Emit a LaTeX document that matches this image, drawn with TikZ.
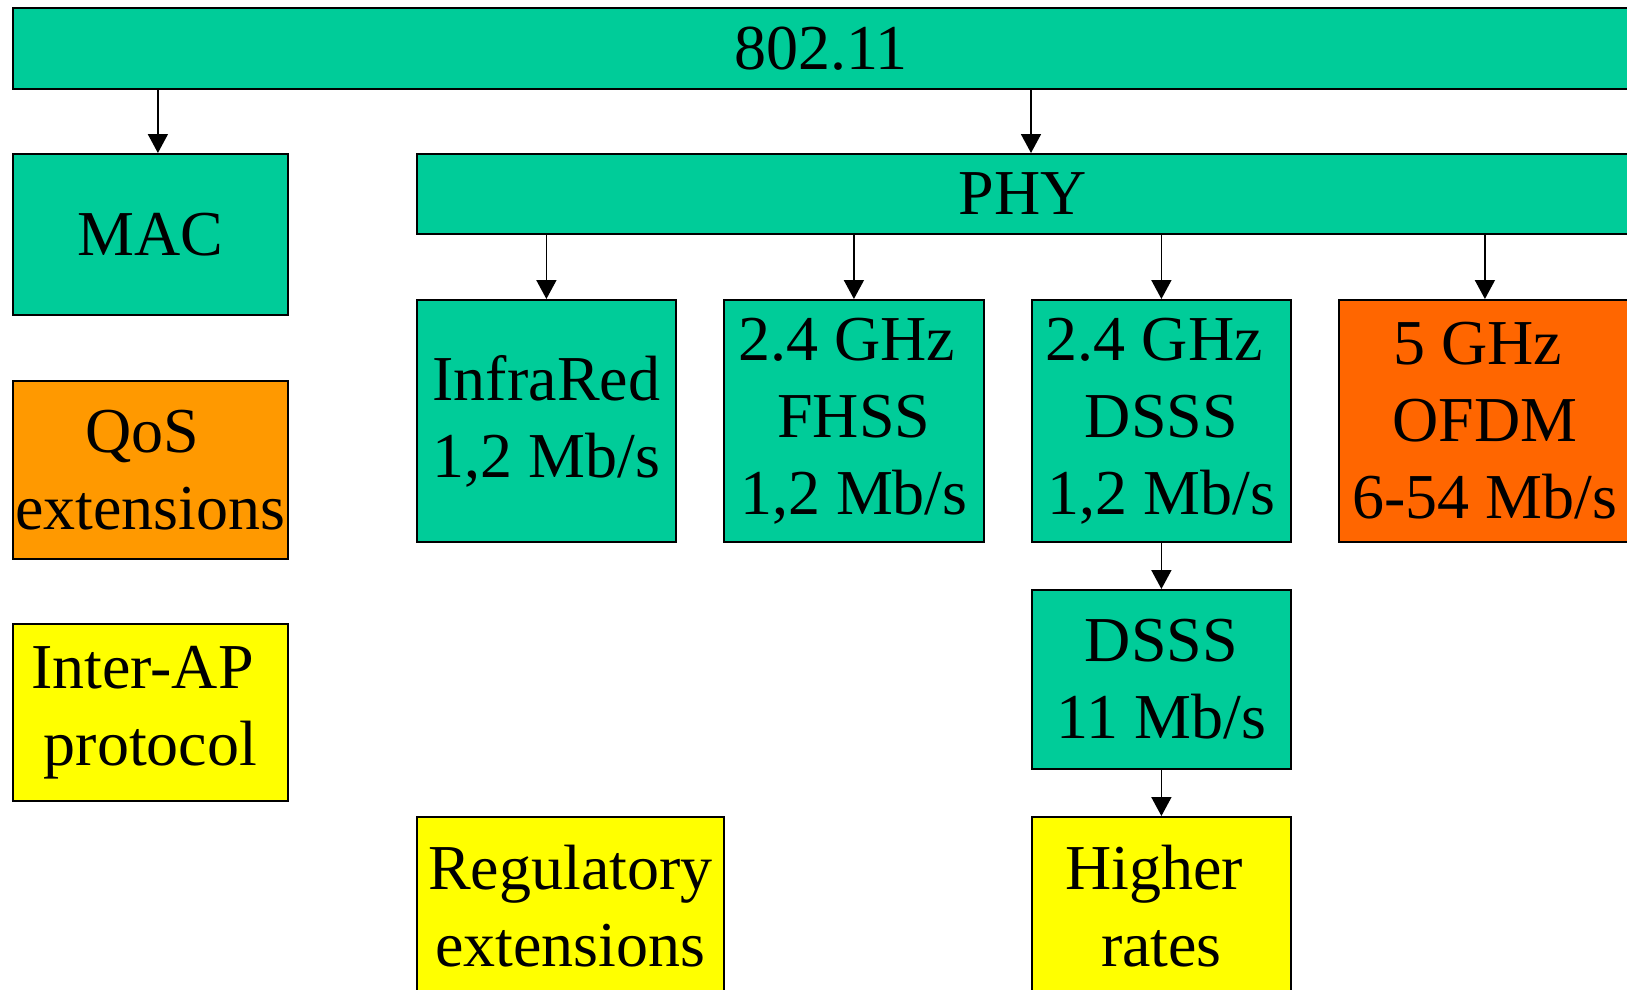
\documentclass[tikz,border=0pt]{standalone}
\usepackage{fontspec}
\setmainfont{Liberation Serif}
\usetikzlibrary{arrows.meta}
\definecolor{boxgreen}{HTML}{00CC99}
\definecolor{boxorange}{HTML}{FF9900}
\definecolor{boxred}{HTML}{FF6600}
\definecolor{boxyellow}{HTML}{FFFF00}
\tikzset{
  blk/.style={draw=black, line width=1.8pt, anchor=north west, inner sep=0pt,
    align=center, font=\fontsize{64}{77}\selectfont, text=black},
  green/.style={blk, fill=boxgreen},
  orng/.style={blk, fill=boxorange},
  redo/.style={blk, fill=boxred},
  yell/.style={blk, fill=boxyellow},
  arr/.style={line width=1.8pt, -{Triangle[length=19pt,width=20pt]}}
}
\begin{document}
\begin{tikzpicture}[x=1pt, y=-1pt]
\useasboundingbox (0,0) rectangle (1627,990);
\fill[white] (0,0) rectangle (1627,990);
\clip (0,0) rectangle (1627,990);

% standard and its two layers
\node[green, minimum width=1616pt, minimum height=81pt] (top) at (12,7) {802.11};
\node[green, minimum width=275pt, minimum height=161pt] (mac) at (12,153) {MAC};
\node[green, minimum width=1212pt, minimum height=80pt] (phy) at (416,153) {PHY};

% MAC extensions
\node[orng, minimum width=275pt, minimum height=178pt] (qos) at (12,380) {QoS\hspace*{16pt}\\extensions};
\node[yell, minimum width=275pt, minimum height=177pt] (iap) at (12,623) {\rule{0pt}{10pt}Inter-AP\hspace*{16pt}\\protocol};

% physical layers
\node[green, minimum width=259pt, minimum height=242pt] (ir) at (416,299) {InfraRed\\1,2 Mb/s};
\node[green, minimum width=260pt, minimum height=242pt] (fh) at (723,299) {2.4 GHz\hspace*{14pt}\\FHSS\\1,2 Mb/s};
\node[green, minimum width=259pt, minimum height=242pt] (ds) at (1031,299) {2.4 GHz\hspace*{14pt}\\DSSS\\1,2 Mb/s};
\node[redo, minimum width=292pt, minimum height=242pt] (of) at (1338,299) {5 GHz\hspace*{14pt}\\OFDM\\6-54 Mb/s};
\node[green, minimum width=259pt, minimum height=179pt] (ds11) at (1031,589) {DSSS\\11 Mb/s};

% later extensions
\node[yell, minimum width=259pt, minimum height=178pt] (hr) at (1031,816) {Higher\hspace*{14pt}\\rates};
\node[yell, minimum width=307pt, minimum height=178pt] (reg) at (416,816) {Regulatory\\extensions};

% connectors
\draw[arr] ([xshift=7.5pt]mac.north |- top.south) -- ([xshift=7.5pt]mac.north);
\draw[arr] (top.south -| ds.west) -- (phy.north -| ds.west);
\draw[arr] (phy.south -| ir.north) -- (ir.north);
\draw[arr] (phy.south -| fh.north) -- (fh.north);
\draw[arr] (phy.south -| ds.north) -- (ds.north);
\draw[arr] (phy.south -| of.north) -- (of.north);
\draw[arr] (ds.south) -- (ds11.north);
\draw[arr] (ds11.south) -- (hr.north);
\end{tikzpicture}
\end{document}
